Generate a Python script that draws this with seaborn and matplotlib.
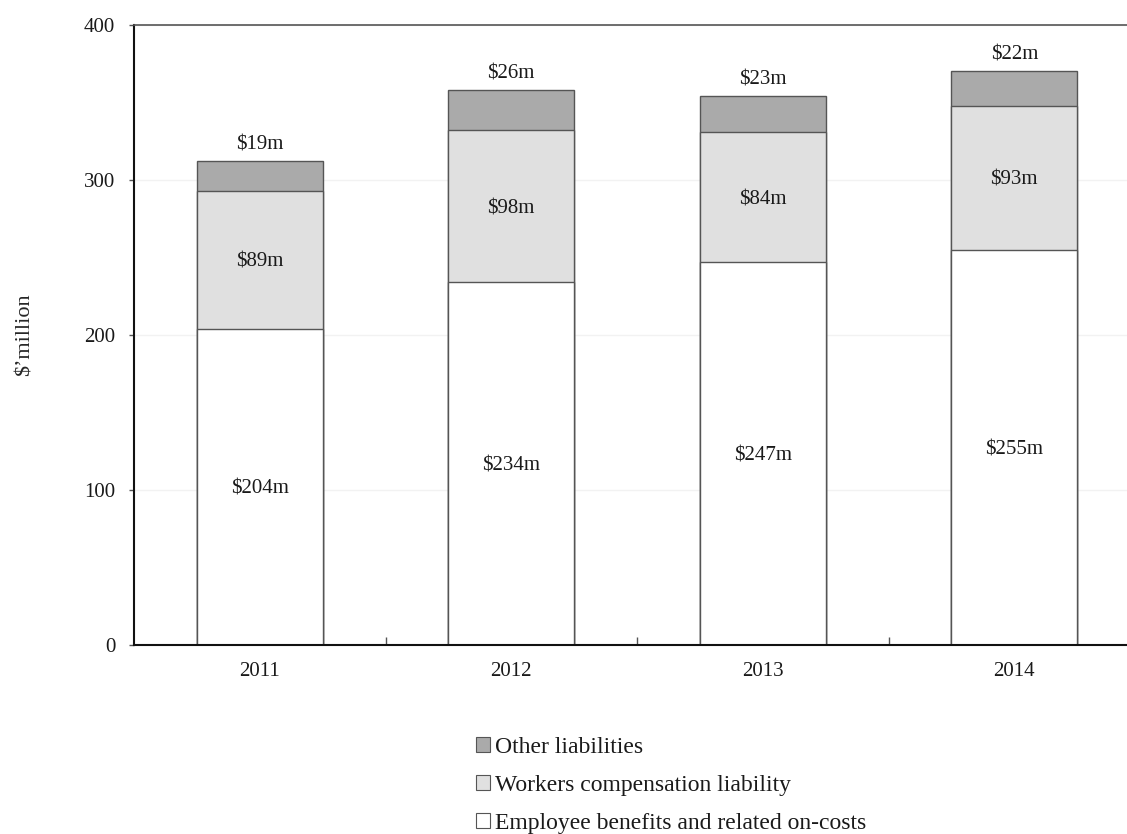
import matplotlib
matplotlib.use("Agg")
import matplotlib.pyplot as plt
from matplotlib.patches import Patch
from matplotlib.ticker import FixedLocator
import numpy as np
import pandas as pd
import seaborn as sns

years = ["2011", "2012", "2013", "2014"]
employee_benefits = [204, 234, 247, 255]
workers_comp = [89, 98, 84, 93]
other_liabilities = [19, 26, 23, 22]

series_names = ["Employee benefits and related on-costs",
                "Workers compensation liability",
                "Other liabilities"]
series_colors = ["#ffffff", "#e0e0e0", "#aaaaaa"]
edge = "#555555"

sns.set_theme(style="white")
plt.rcParams["font.family"] = ["Liberation Serif", "DejaVu Serif"]
plt.rcParams["text.color"] = "#1a1a1a"

df = pd.DataFrame({
    "year": years,
    "emp": employee_benefits,
    "wc": workers_comp,
    "oth": other_liabilities,
})
df["lvl1"] = df["emp"]
df["lvl2"] = df["emp"] + df["wc"]
df["lvl3"] = df["lvl2"] + df["oth"]

fig = plt.figure(figsize=(11.27, 8.34), dpi=100)
ax = fig.add_axes([134 / 1127, 1 - 645 / 834, 1006 / 1127, 620 / 834])

# Stack drawn as overlapping cumulative bars, tallest first
for col, color in zip(["lvl3", "lvl2", "lvl1"], series_colors[::-1]):
    sns.barplot(data=df, x="year", y=col, color=color, width=0.5,
                edgecolor=edge, linewidth=1.0, saturation=1, ax=ax)

ax.set_ylim(0, 400)
ax.set_xlim(-0.5, 3.5)
ax.set_yticks([0, 100, 200, 300, 400])
ax.grid(axis="y", color="#f2f2f2", linewidth=1)
ax.set_axisbelow(True)
ax.set_xlabel("")
ax.set_ylabel("$\u2019million", fontsize=16, va="center")
ax.yaxis.set_label_coords(-0.108, 0.5)

ax.tick_params(axis="y", which="major", left=True, length=3.5, width=1,
               color="#555555", labelsize=15, pad=10, labelcolor="#1a1a1a")
ax.tick_params(axis="x", which="major", bottom=False, labelsize=15, pad=6,
               labelcolor="#1a1a1a")
ax.xaxis.set_minor_locator(FixedLocator([0.5, 1.5, 2.5]))
ax.tick_params(axis="x", which="minor", bottom=True, direction="in",
               length=6, width=1, color="#555555")

for side in ["left", "bottom"]:
    ax.spines[side].set_color("#111111")
    ax.spines[side].set_linewidth(1.5)
for side in ["top", "right"]:
    ax.spines[side].set_color("#555555")
    ax.spines[side].set_linewidth(1.2)

# Value labels
for i in range(len(years)):
    e, w, o = employee_benefits[i], workers_comp[i], other_liabilities[i]
    ax.text(i, e / 2, f"${e}m", ha="center", va="center_baseline", fontsize=15)
    ax.text(i, e + w / 2, f"${w}m", ha="center", va="center_baseline",
            fontsize=15)
    ax.annotate(f"${o}m", (i, e + w + o), xytext=(0, 5),
                textcoords="offset points", ha="center", va="bottom",
                fontsize=15)

handles = [Patch(facecolor=c, edgecolor=edge, linewidth=0.8, label=n)
           for n, c in zip(series_names[::-1], series_colors[::-1])]
fig.legend(handles=handles, loc="upper left",
           bbox_to_anchor=(476 / 1127, 1 - 737 / 834),
           frameon=False, fontsize=17, handlelength=0.6, handleheight=0.6,
           handletextpad=0.2, labelspacing=0.72, borderaxespad=0,
           borderpad=0)

fig.savefig("out.png", dpi=100)
